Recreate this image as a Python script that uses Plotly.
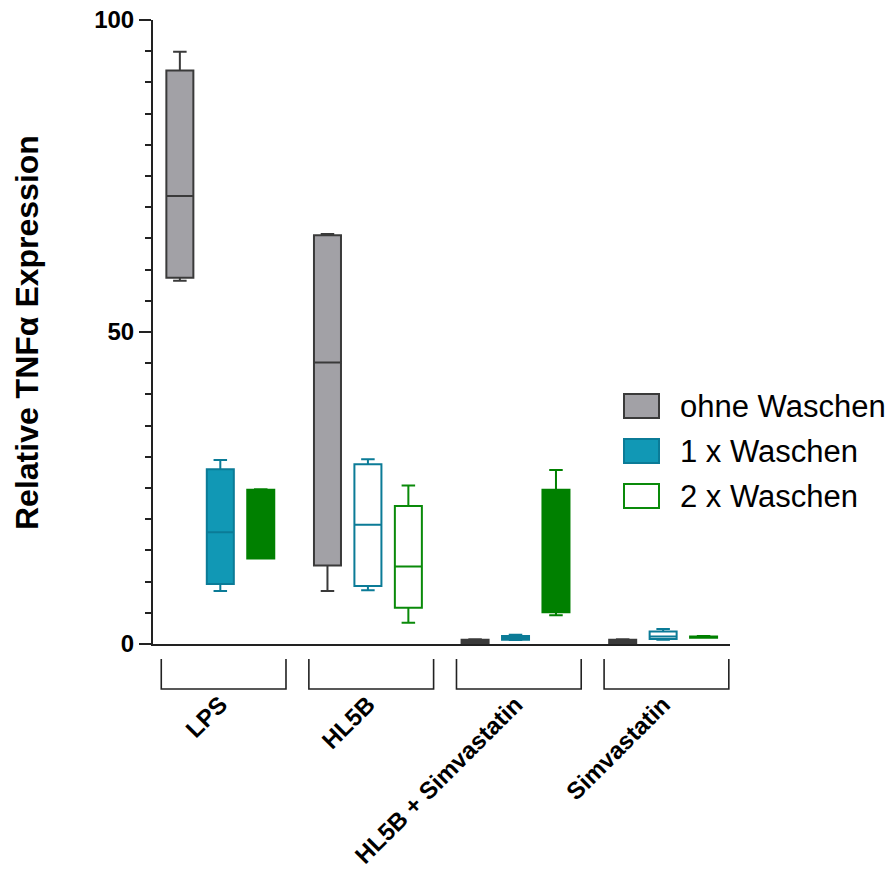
import plotly.graph_objects as go

# ---------------- data ----------------
categories = ["LPS", "HL5B", "HL5B + Simvastatin", "Simvastatin"]
series_names = ["ohne Waschen", "1 x Waschen", "2 x Waschen"]

ohne_low = [58.2, 8.5, 0.1, 0.1]
ohne_q1 = [58.7, 12.6, 0.15, 0.15]
ohne_med = [71.8, 45.1, 0.4, 0.4]
ohne_q3 = [91.9, 65.5, 0.7, 0.7]
ohne_high = [94.9, 65.7, 0.75, 0.75]

w1_low = [8.5, 8.6, 0.65, 0.7]
w1_q1 = [9.6, 9.3, 0.7, 0.8]
w1_med = [17.9, 19.1, 1.0, 1.2]
w1_q3 = [28.0, 28.8, 1.3, 2.0]
w1_high = [29.5, 29.6, 1.5, 2.4]

w2_low = [13.7, 3.4, 4.6, 1.0]
w2_q1 = [13.7, 5.8, 5.1, 1.0]
w2_med = [20.0, 12.4, 15.0, 1.1]
w2_q3 = [24.7, 22.1, 24.7, 1.2]
w2_high = [24.8, 25.4, 27.9, 1.3]

# ---------------- styles ----------------
series_stats = [
    (ohne_low, ohne_q1, ohne_med, ohne_q3, ohne_high),
    (w1_low, w1_q1, w1_med, w1_q3, w1_high),
    (w2_low, w2_q1, w2_med, w2_q3, w2_high),
]
fill_colors = ["#a2a1a6", "#1198b5", "#008000"]
line_colors = ["#3a3a3a", "#0b7b97", "#0a8a0a"]
filled_line_colors = ["#3a3a3a", "#0b7b97", "#008000"]
# which boxes are drawn filled (per series, per category)
filled = [
    [True, True, True, True],
    [True, False, True, False],
    [True, False, True, True],
]

offset = 0.274
box_w = 0.183

fig = go.Figure()
for s, name in enumerate(series_names):
    low, q1, med, q3, high = series_stats[s]
    for c, cat in enumerate(categories):
        pos = c + (s - 1) * offset
        is_filled = filled[s][c]
        fig.add_trace(go.Box(
            x=[pos], q1=[q1[c]], median=[med[c]], q3=[q3[c]],
            lowerfence=[low[c]], upperfence=[high[c]],
            width=box_w, whiskerwidth=0.5,
            fillcolor=fill_colors[s] if is_filled else "white",
            line=dict(color=filled_line_colors[s] if is_filled else line_colors[s], width=2),
            boxpoints=False, showlegend=False, name=name, hoverinfo="skip",
        ))

# pixel -> paper helpers (plot area 153..730 x 20..644)
L, R, T, B = 153, 730, 20, 644
def px(x):
    return (x - L) / (R - L)
def py(y):
    return (B - y) / (B - T)

shapes = []
# group brackets below the axis
for c in range(len(categories)):
    x0, x1 = c - 0.40, c + 0.445
    shapes.append(dict(type="path", xref="x", yref="paper",
                       path=f"M {x0},{py(659)} L {x0},{py(689)} L {x1},{py(689)} L {x1},{py(659)}",
                       line=dict(color="#222222", width=1.6)))

annotations = []
# manual legend
legend_fill = ["#a2a1a6", "#1198b5", "white"]
legend_line = ["#3a3a3a", "#0b7b97", "#0a8a0a"]
for s, name in enumerate(series_names):
    cy = 406 + 45 * s
    shapes.append(dict(type="rect", xref="paper", yref="paper",
                       x0=px(624), x1=px(659), y0=py(cy + 12), y1=py(cy - 12),
                       fillcolor=legend_fill[s], line=dict(color=legend_line[s], width=2)))
    annotations.append(dict(xref="paper", yref="paper", x=px(678), y=py(cy),
                            text=name, showarrow=False, xanchor="left", yanchor="middle",
                            font=dict(family="Liberation Sans", size=31, color="black")))

# y-axis title
annotations.append(dict(xref="paper", yref="paper", x=px(27), y=py(333), text="Relative TNFα Expression",
                        textangle=-90, showarrow=False, xanchor="center", yanchor="middle",
                        font=dict(family="Liberation Sans", size=32, color="black", weight="bold")))

fig.update_layout(
    width=890, height=877,
    margin=dict(l=L, r=890 - R, t=T, b=877 - B, autoexpand=False),
    paper_bgcolor="white", plot_bgcolor="white",
    shapes=shapes, annotations=annotations, showlegend=False,
    xaxis=dict(range=[-0.456, 3.453], showline=True, linewidth=2, linecolor="#222222",
               showgrid=False, zeroline=False, ticks="", tickvals=[c for c in range(len(categories))],
               ticktext=categories, tickangle=-45, ticklabelstandoff=35, automargin=False,
               tickfont=dict(family="Liberation Sans", size=24, color="black", weight="bold")),
    yaxis=dict(range=[0, 100], showline=True, linewidth=2, linecolor="#222222",
               showgrid=False, zeroline=False, tickvals=[0, 50, 100], ticks="outside",
               ticklen=12, tickwidth=2, tickcolor="#222222", automargin=False,
               minor=dict(dtick=5, ticks="outside", ticklen=6, tickwidth=2, tickcolor="#222222"),
               tickfont=dict(family="Liberation Sans", size=24, color="black", weight="bold")),
)

fig.write_html("out.html")
